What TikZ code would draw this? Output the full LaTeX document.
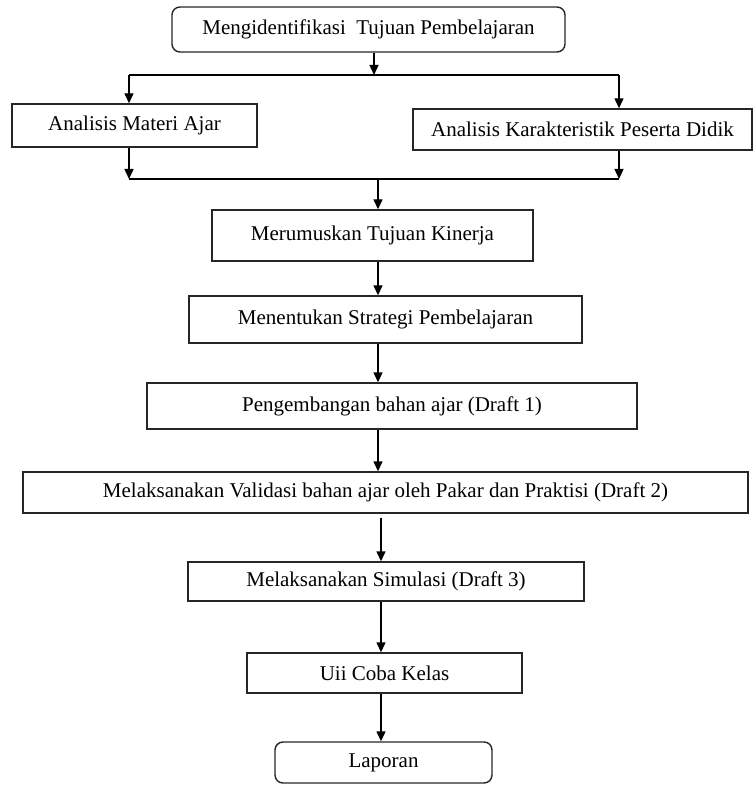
\documentclass[tikz,border=0pt]{standalone}
\usepackage{fontspec}
\setmainfont{Liberation Serif}
\usepackage{tikz}
\usetikzlibrary{ % tikz packages
    positioning,
    arrows.meta
}
\tikzset{stepbox/.style={
    draw=black!85,
    line width=0.7pt,
    inner sep=0pt,
    align=center,
    font=\fontsize{10.5}{12}\selectfont
}}
\tikzset{roundbox/.style={
    stepbox,
    rounded corners=4pt
}}
\tikzset{>={Triangle[length=5pt,width=4.5pt]}}

\begin{document}
\begin{tikzpicture}[x=0.5pt,y=-0.5pt,line width=0.7pt]
        \useasboundingbox (0,0) rectangle (754,785);

        \node[roundbox,minimum width=196.5pt,minimum height=22.5pt] (tujuan) at (368.5,29.5) {Mengidentifikasi\ \ Tujuan Pembelajaran};

        \node[stepbox,minimum width=122.5pt,minimum height=21.5pt] (materi) at (134.5,125.5) {Analisis Materi Ajar};
        \node[stepbox,minimum width=169.5pt,minimum height=20.5pt] (karakter) at (582.5,129.5) {Analisis Karakteristik Peserta Didik};

        \node[stepbox,minimum width=160.5pt,minimum height=25.5pt] (kinerja) at (372.5,235.5) {Merumuskan Tujuan Kinerja};
        \node[stepbox,minimum width=196.5pt,minimum height=23.5pt] (strategi) at (385.5,319.5) {Menentukan Strategi Pembelajaran};
        \node[stepbox,minimum width=245pt,minimum height=23pt] (draft1) at (392,406) {Pengembangan bahan ajar (Draft 1)};
        \node[stepbox,minimum width=362.5pt,minimum height=20.5pt] (draft2) at (385.5,492.5) {Melaksanakan Validasi bahan ajar oleh Pakar dan Praktisi (Draft 2)};
        \node[stepbox,minimum width=198pt,minimum height=19.5pt] (draft3) at (386,581.5) {Melaksanakan Simulasi (Draft 3)};
        \node[stepbox,minimum width=137.5pt,minimum height=20pt] (ujicoba) at (384.5,673) {Uii Coba Kelas};
        \node[roundbox,minimum width=108.5pt,minimum height=20.5pt] (laporan) at (383.5,762.5) {Laporan};

        % split and join points
        \coordinate (split) at (374,75);
        \coordinate (forkL) at (129,75);
        \coordinate (forkR) at (619,75);
        \coordinate (joinL) at (129,179);
        \coordinate (joinR) at (619,179);
        \coordinate (joinM) at (378,179);
        \coordinate (spineA) at (378,0);
        \coordinate (spineB) at (381,0);

        \draw[->] (tujuan.south -| split) -- (split);
        \draw (forkL) -- (forkR);
        \draw[->] (forkL) -- (materi.north -| forkL);
        \draw[->] (forkR) -- (karakter.north -| forkR);

        \draw[->] (materi.south -| joinL) -- (joinL);
        \draw[->] (karakter.south -| joinR) -- (joinR);
        \draw (joinL) -- (joinR);
        \draw[->] (joinM) -- (kinerja.north -| joinM);

        \draw[->] (kinerja.south -| spineA) -- (strategi.north -| spineA);
        \draw[->] (strategi.south -| spineA) -- (draft1.north -| spineA);
        \draw[->] (draft1.south -| spineA) -- (draft2.north -| spineA);
        \draw[->] ([yshift=-2pt]draft2.south -| spineB) -- (draft3.north -| spineB);
        \draw[->] (draft3.south -| spineB) -- (ujicoba.north -| spineB);
        \draw[->] (ujicoba.south -| spineB) -- (laporan.north -| spineB);
    \end{tikzpicture}
\end{document}
